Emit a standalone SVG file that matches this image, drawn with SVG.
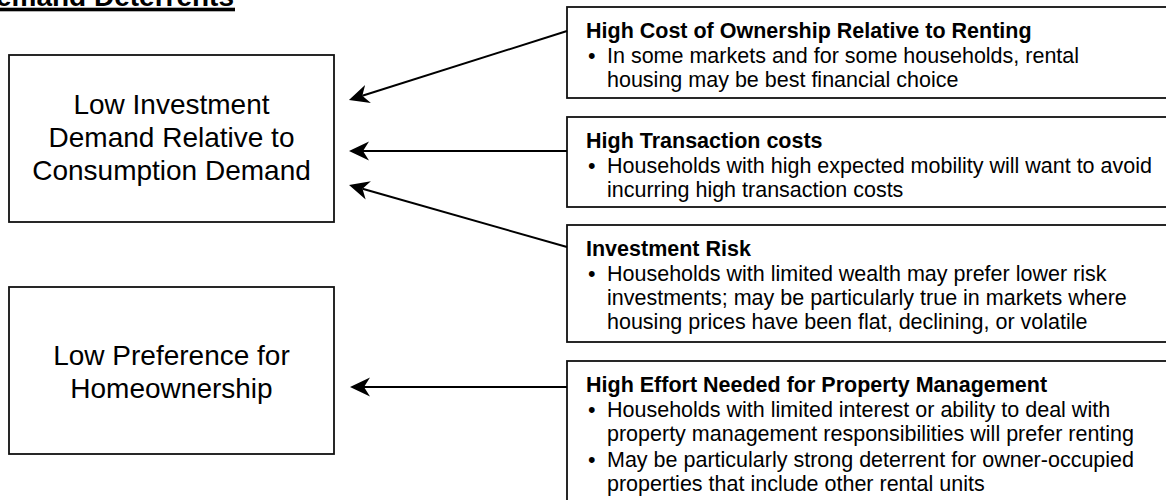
<svg xmlns="http://www.w3.org/2000/svg" width="1166" height="500" viewBox="0 0 1166 500">
  <defs>
    <style>
      text { font-family: "Liberation Sans", Arial, sans-serif; fill: #000; }
      .box { fill: #fff; stroke: #111; stroke-width: 1.8; }
      .big { font-size: 28px; text-anchor: middle; }
      .hd { font-size: 21.5px; font-weight: bold; }
      .tx { font-size: 21.5px; }
      .conn { stroke: #000; stroke-width: 2; fill: none; marker-end: url(#head); }
    </style>
    <marker id="head" markerUnits="userSpaceOnUse" viewBox="0 -10 22 20" markerWidth="22" markerHeight="20" refX="6" refY="0" orient="auto">
      <path d="M0,-9.5 L20,0 L0,9.5 L6,0 Z" fill="#000"/>
    </marker>
  </defs>

  <rect width="1166" height="500" fill="#fff"/>

  <!-- heading -->
  <g id="heading">
    <text x="234" y="6" font-size="28" font-weight="bold" text-anchor="end">Demand Deterrents</text>
    <rect x="-30" y="7.7" width="265" height="3.6" fill="#000"/>
  </g>

  <!-- outcome nodes -->
  <g id="low-investment-demand">
    <rect class="box" x="9" y="55" width="325" height="167"/>
    <text class="big" x="171.5" y="114">Low Investment</text>
    <text class="big" x="171.5" y="147">Demand Relative to</text>
    <text class="big" x="171.5" y="180">Consumption Demand</text>
  </g>

  <g id="low-preference">
    <rect class="box" x="9" y="287" width="325" height="167"/>
    <text class="big" x="171.5" y="365">Low Preference for</text>
    <text class="big" x="171.5" y="398">Homeownership</text>
  </g>

  <!-- deterrent nodes -->
  <g id="cost-of-ownership">
    <rect class="box" x="567" y="7" width="640" height="91"/>
    <text class="hd" x="586" y="38">High Cost of Ownership Relative to Renting</text>
    <text class="tx" x="588" y="63">•</text>
    <text class="tx" x="607" y="63">In some markets and for some households, rental</text>
    <text class="tx" x="607" y="87">housing may be best financial choice</text>
  </g>

  <g id="transaction-costs">
    <rect class="box" x="567" y="117" width="640" height="90"/>
    <text class="hd" x="586" y="148">High Transaction costs</text>
    <text class="tx" x="588" y="173">•</text>
    <text class="tx" x="607" y="173">Households with high expected mobility will want to avoid</text>
    <text class="tx" x="607" y="197">incurring high transaction costs</text>
  </g>

  <g id="investment-risk">
    <rect class="box" x="567" y="225" width="640" height="117"/>
    <text class="hd" x="586" y="256">Investment Risk</text>
    <text class="tx" x="588" y="281">•</text>
    <text class="tx" x="607" y="281">Households with limited wealth may prefer lower risk</text>
    <text class="tx" x="607" y="305">investments; may be particularly true in markets where</text>
    <text class="tx" x="607" y="329">housing prices have been flat, declining, or volatile</text>
  </g>

  <g id="property-management">
    <rect class="box" x="567" y="361" width="640" height="150"/>
    <text class="hd" x="586" y="392">High Effort Needed for Property Management</text>
    <text class="tx" x="588" y="417">•</text>
    <text class="tx" x="607" y="417">Households with limited interest or ability to deal with</text>
    <text class="tx" x="607" y="441">property management responsibilities will prefer renting</text>
    <text class="tx" x="588" y="467">•</text>
    <text class="tx" x="607" y="467">May be particularly strong deterrent for owner-occupied</text>
    <text class="tx" x="607" y="491">properties that include other rental units</text>
  </g>

  <!-- connectors -->
  <g id="connectors">
    <line class="conn" x1="567" y1="31" x2="362.3" y2="95.8"/>
    <line class="conn" x1="567" y1="151" x2="363" y2="151"/>
    <line class="conn" x1="567" y1="247" x2="362.5" y2="188.8"/>
    <line class="conn" x1="567" y1="387" x2="364" y2="387"/>
  </g>
</svg>
